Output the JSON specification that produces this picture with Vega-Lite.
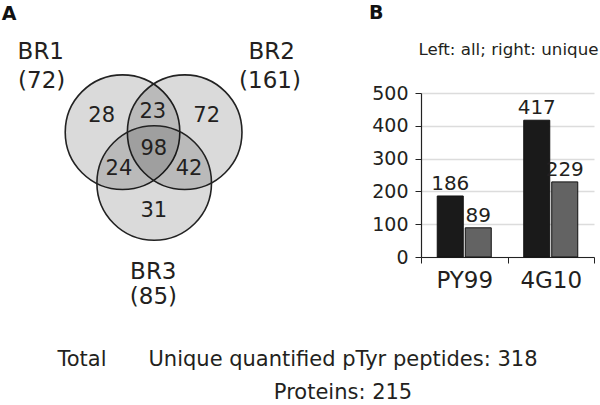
{
  "$schema": "https://vega.github.io/schema/vega-lite/v6.json",
  "usermeta": {"embedOptions": {"actions": false}},
  "padding": {"top": 4, "left": 0, "right": 0, "bottom": 0},
  "background": "white",
  "config": {"font": "DejaVu Sans", "view": {"stroke": null}},
  "datasets": {
    "circles": [
      {"set": "BR1", "x": -0.528, "y": 0.292},
      {"set": "BR2", "x": 0.508, "y": 0.292},
      {"set": "BR3", "x": 0.0, "y": -0.555}
    ],
    "regions": [
      {"region": "BR1 only", "count": 28, "x": -0.875, "y": 0.568},
      {"region": "BR1 & BR2", "count": 23, "x": -0.023, "y": 0.63},
      {"region": "BR2 only", "count": 72, "x": 0.875, "y": 0.568},
      {"region": "all three", "count": 98, "x": -0.007, "y": 0.005},
      {"region": "BR1 & BR3", "count": 24, "x": -0.587, "y": -0.325},
      {"region": "BR2 & BR3", "count": 42, "x": 0.58, "y": -0.325},
      {"region": "BR3 only", "count": 31, "x": -0.007, "y": -1.017}
    ],
    "sets": [
      {"label": "BR1", "x": -1.89, "y": 1.635},
      {"label": "(72)", "x": -1.875, "y": 1.153},
      {"label": "BR2", "x": 1.958, "y": 1.635},
      {"label": "(161)", "x": 1.93, "y": 1.153},
      {"label": "BR3", "x": -0.015, "y": -2.032},
      {"label": "(85)", "x": -0.012, "y": -2.457}
    ],
    "panel": [
      {"label": "A", "x": -2.542, "y": 2.418}
    ],
    "bars": [
      {"antibody": "PY99", "set": "all", "count": 186},
      {"antibody": "PY99", "set": "unique", "count": 89},
      {"antibody": "4G10", "set": "all", "count": 417},
      {"antibody": "4G10", "set": "unique", "count": 229}
    ],
    "footer": [
      {"text": "Total", "x": 1.367, "y": 0.7},
      {"text": "Unique quantified pTyr peptides: 318", "x": 5.717, "y": 0.7},
      {"text": "Proteins: 215", "x": 5.717, "y": 1.245}
    ]
  },
  "spacing": 0,
  "vconcat": [
    {
      "spacing": 68,
      "hconcat": [
        {
          "width": 300,
          "height": 225,
          "encoding": {
            "x": {"field": "x", "type": "quantitative", "scale": {"domain": [-2.57, 2.43], "nice": false, "zero": false}, "axis": null},
            "y": {"field": "y", "type": "quantitative", "scale": {"domain": [-2.805, 0.945], "nice": false, "zero": false}, "axis": null}
          },
          "layer": [
            {
              "data": {"name": "circles"},
              "mark": {"type": "point", "shape": "circle", "size": 13133, "filled": true, "fill": "#000000", "fillOpacity": 0.145, "stroke": "#222222", "strokeWidth": 1.6, "strokeOpacity": 1, "opacity": 1}
            },
            {
              "data": {"name": "regions"},
              "mark": {"type": "text", "fontSize": 21, "align": "center", "baseline": "middle", "color": "#231f20"},
              "encoding": {"text": {"field": "count", "type": "quantitative"}}
            },
            {
              "data": {"name": "sets"},
              "mark": {"type": "text", "fontSize": 23, "align": "center", "baseline": "middle", "color": "#231f20"},
              "encoding": {"text": {"field": "label", "type": "nominal"}}
            },
            {
              "data": {"name": "panel"},
              "mark": {"type": "text", "fontSize": 19, "fontWeight": "bold", "align": "left", "baseline": "top", "color": "#111111"},
              "encoding": {"text": {"field": "label", "type": "nominal"}}
            }
          ]
        },
        {
          "width": 173,
          "height": 164,
          "title": {"text": "B", "anchor": "start", "frame": "group", "fontSize": 19, "fontWeight": "bold", "offset": 18, "dx": -52, "color": "#111111"},
          "data": {"name": "bars"},
          "encoding": {
            "xOffset": {"field": "set", "type": "nominal", "sort": ["all", "unique"], "scale": {"paddingInner": 0.0714, "paddingOuter": 0.58}},
            "y": {
              "field": "count", "type": "quantitative",
              "scale": {"domain": [0, 500], "nice": false},
              "axis": {"values": [0, 100, 200, 300, 400, 500], "title": null, "grid": true, "gridColor": "#dcdcdc", "gridWidth": 1.5, "domainColor": "#222222", "domainWidth": 1.2, "tickColor": "#222222", "tickSize": 6, "labelFontSize": 19, "labelPadding": 7, "labelColor": "#231f20"}
            }
          },
          "layer": [
            {
              "mark": {"type": "bar", "stroke": "#111111", "strokeWidth": 1},
              "encoding": {
                "x": {"field": "antibody", "type": "nominal", "sort": ["PY99", "4G10"], "scale": {"paddingInner": 0, "paddingOuter": 0},
                      "axis": {"orient": "bottom", "title": null, "labelAngle": 0, "labelFontSize": 23, "labelPadding": 6, "tickBand": "extent", "tickSize": 6, "domainColor": "#222222", "domainWidth": 1.2, "tickColor": "#222222", "labelColor": "#231f20"}},
                "color": {"field": "set", "type": "nominal", "scale": {"domain": ["all", "unique"], "range": ["#1a1a1a", "#636363"]}, "legend": null}
              }
            },
            {
              "mark": {"type": "text", "fontSize": 20, "align": "center", "baseline": "alphabetic", "dy": -6, "color": "#231f20"},
              "encoding": {
                "x": {"field": "antibody", "type": "nominal", "sort": ["PY99", "4G10"], "scale": {"paddingInner": 0, "paddingOuter": 0},
                      "axis": {"orient": "top", "title": "Left: all; right: unique", "labels": false, "ticks": false, "domain": false, "grid": false, "titleFontSize": 16.7, "titleFontWeight": "normal", "titleX": 177, "titleAlign": "right", "titlePadding": 35, "titleColor": "#231f20"}},
                "text": {"field": "count", "type": "quantitative"}
              }
            }
          ],
          "resolve": {"axis": {"x": "independent"}}
        }
      ]
    },
    {
      "width": 600,
      "height": 85,
      "data": {"name": "footer"},
      "mark": {"type": "text", "fontSize": 21, "align": "center", "baseline": "middle", "color": "#231f20"},
      "encoding": {
        "x": {"field": "x", "type": "quantitative", "scale": {"domain": [0, 10], "nice": false, "zero": false}, "axis": null},
        "y": {"field": "y", "type": "quantitative", "scale": {"domain": [0, 1.4167], "reverse": true, "nice": false, "zero": false}, "axis": null},
        "text": {"field": "text", "type": "nominal"}
      }
    }
  ]
}
